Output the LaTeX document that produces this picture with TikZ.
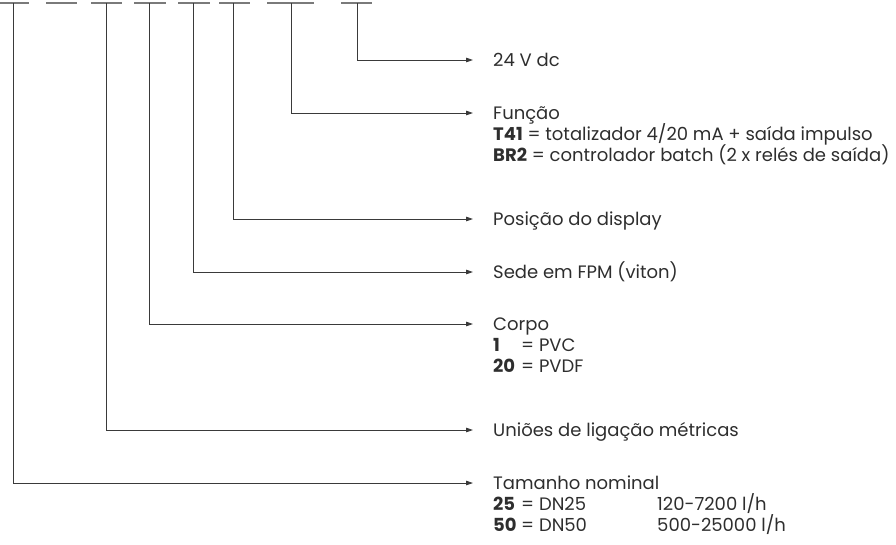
\documentclass[tikz,border=0pt]{standalone}
\usepackage{fontspec}
\setmainfont{Poppins}
\usetikzlibrary{arrows.meta}
\definecolor{linec}{HTML}{3A3A3A}
\definecolor{barc}{HTML}{7A7A7A}
\definecolor{txtc}{HTML}{2E2E2E}
\begin{document}
\begin{tikzpicture}[x=1pt,y=-1pt,
  bar/.style={draw=barc,line width=1.1pt},
  conn/.style={draw=linec,line width=0.8pt,-{Triangle[length=7pt,width=4.5pt]}},
  lbl/.style={anchor=base west,inner sep=0pt,text=txtc,font=\fontsize{18}{21}\selectfont}]
\useasboundingbox (0,0) rectangle (896,544);
% top code bars
\foreach \a/\b/\n in {0/29/s1,46/77/s2,91/122/s3,134/166/s4,178/210/s5,219/250/s6,267/314/s7,341/372/s8}
  {\draw[bar] (\a,3) -- (\b,3); \coordinate (\n) at ({(\a+\b)/2},3);}
\coordinate (v1) at (13,3);
\coordinate (v3) at (106,3);
\coordinate (v4) at (149,3);
\coordinate (v5) at (193,3);
\coordinate (v6) at (233,3);
\coordinate (v7) at (291,3);
\coordinate (v8) at (357,3);
% arrow end points
\coordinate (e8) at (473,60);
\coordinate (e7) at (473,113);
\coordinate (e6) at (473,219);
\coordinate (e5) at (473,272);
\coordinate (e4) at (473,324);
\coordinate (e3) at (473,430);
\coordinate (e1) at (473,483);
% connectors
\draw[conn] (v8) |- (e8);
\draw[conn] (v7) |- (e7);
\draw[conn] (v6) |- (e6);
\draw[conn] (v5) |- (e5);
\draw[conn] (v4) |- (e4);
\draw[conn] (v3) |- (e3);
\draw[conn] (v1) |- (e1);
% labels
\newcommand{\cd}[2]{\makebox[#1][l]{\textbf{#2}}}
\node[lbl] (t8) at (493,66.5) {24 V dc};
\node[lbl] (t7a) at (493,119.5) {Função};
\node[lbl] (t7b) at (493,140.5) {\textbf{T41} = totalizador 4/20 mA + saída impulso};
\node[lbl] (t7c) at (493,161.5) {\textbf{BR2} = controlador batch (2 x relés de saída)};
\node[lbl] (t6) at (493,225.5) {Posição do display};
\node[lbl] (t5) at (493,278.5) {Sede em FPM (viton)};
\node[lbl] (t4a) at (493,330.5) {Corpo};
\node[lbl] (t4b) at (493,351.5) {\cd{28pt}{1}= PVC};
\node[lbl] (t4c) at (493,372.5) {\cd{28pt}{20}= PVDF};
\node[lbl] (t3) at (493,436.5) {Uniões de ligação métricas};
\node[lbl] (t1a) at (493,489.5) {Tamanho nominal};
\node[lbl] (t1b) at (493,510.5) {\cd{28pt}{25}= DN25};
\node[lbl] (t1bb) at (657,510.5) {120-7200 l/h};
\node[lbl] (t1c) at (493,531.5) {\cd{28pt}{50}= DN50};
\node[lbl] (t1cc) at (657,531.5) {500-25000 l/h};
\end{tikzpicture}
\end{document}
